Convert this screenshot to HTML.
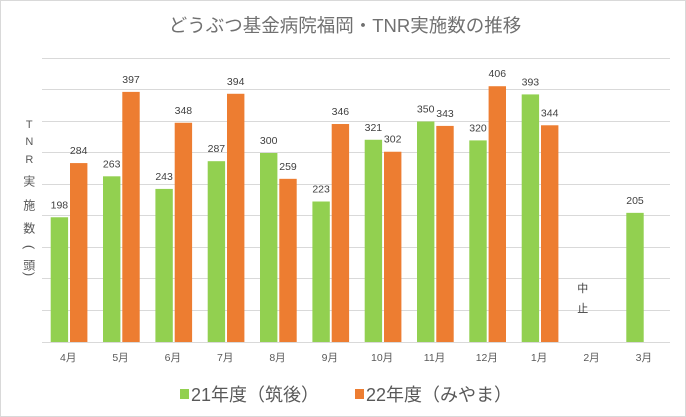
<!DOCTYPE html>
<html>
<head>
<meta charset="utf-8">
<style>
html,body{margin:0;padding:0;background:#fff;}
svg{display:block;}
.t{font-family:"Liberation Sans","Noto Sans CJK JP",sans-serif;}
.cjk{font-family:"Noto Sans CJK JP","Liberation Sans",sans-serif;}
</style>
</head>
<body>
<svg width="686" height="417" viewBox="0 0 686 417" xmlns="http://www.w3.org/2000/svg">
<rect x="0.5" y="0.5" width="685" height="416" fill="#fff" stroke="#d9d9d9" stroke-width="1"/>
<!-- title -->
<text x="345" y="32" text-anchor="middle" class="cjk" font-size="18.5" fill="#707070">どうぶつ基金病院福岡・<tspan class="t">TNR</tspan>実施数の推移</text>
<!-- gridlines -->
<g stroke="#d9d9d9" stroke-width="1">
<line x1="42" x2="670" y1="58.5" y2="58.5"/>
<line x1="42" x2="670" y1="89.5" y2="89.5"/>
<line x1="42" x2="670" y1="121.5" y2="121.5"/>
<line x1="42" x2="670" y1="152.5" y2="152.5"/>
<line x1="42" x2="670" y1="184.5" y2="184.5"/>
<line x1="42" x2="670" y1="215.5" y2="215.5"/>
<line x1="42" x2="670" y1="247.5" y2="247.5"/>
<line x1="42" x2="670" y1="278.5" y2="278.5"/>
<line x1="42" x2="670" y1="310.5" y2="310.5"/>
<line x1="42" x2="670" y1="342.5" y2="342.5"/>
</g>
<!-- green bars -->
<g fill="#92D050">
<rect x="50.7" y="217.26" width="17.4" height="124.74"/>
<rect x="103.0" y="176.31" width="17.4" height="165.69"/>
<rect x="155.4" y="188.91" width="17.4" height="153.09"/>
<rect x="207.7" y="161.19" width="17.4" height="180.81"/>
<rect x="260.0" y="153" width="17.4" height="189"/>
<rect x="312.4" y="201.51" width="17.4" height="140.49"/>
<rect x="364.7" y="139.77" width="17.4" height="202.23"/>
<rect x="417.0" y="121.5" width="17.4" height="220.5"/>
<rect x="469.3" y="140.4" width="17.4" height="201.6"/>
<rect x="521.7" y="94.41" width="17.4" height="247.59"/>
<rect x="626.3" y="212.85" width="17.4" height="129.15"/>
</g>
<!-- orange bars -->
<g fill="#ED7D31">
<rect x="70.0" y="163.08" width="17.4" height="178.92"/>
<rect x="122.3" y="91.89" width="17.4" height="250.11"/>
<rect x="174.7" y="122.76" width="17.4" height="219.24"/>
<rect x="227.0" y="93.78" width="17.4" height="248.22"/>
<rect x="279.3" y="178.83" width="17.4" height="163.17"/>
<rect x="331.7" y="124.02" width="17.4" height="217.98"/>
<rect x="384.0" y="151.74" width="17.4" height="190.26"/>
<rect x="436.3" y="125.91" width="17.4" height="216.09"/>
<rect x="488.6" y="86.22" width="17.4" height="255.78"/>
<rect x="541.0" y="125.28" width="17.4" height="216.72"/>
</g>
<!-- data labels -->
<g class="t" font-size="10.5" fill="#404040" text-anchor="middle">
<text x="59.4" y="208.3">198</text>
<text x="111.7" y="167.3">263</text>
<text x="164.1" y="179.9">243</text>
<text x="216.4" y="152.2">287</text>
<text x="268.7" y="144">300</text>
<text x="321.1" y="192.5">223</text>
<text x="373.4" y="130.8">321</text>
<text x="425.7" y="112.5">350</text>
<text x="478.0" y="131.4">320</text>
<text x="530.4" y="85.4">393</text>
<text x="635.0" y="203.9">205</text>
<text x="78.7" y="154.1">284</text>
<text x="131.0" y="82.9">397</text>
<text x="183.4" y="113.8">348</text>
<text x="235.7" y="84.8">394</text>
<text x="288.0" y="169.8">259</text>
<text x="340.4" y="115">346</text>
<text x="392.7" y="142.7">302</text>
<text x="445.0" y="116.9">343</text>
<text x="497.3" y="77.2">406</text>
<text x="549.7" y="116.3">344</text>
</g>
<!-- 中止 -->
<g class="cjk" font-size="11" fill="#404040" text-anchor="middle">
<text x="582.7" y="292">中</text>
<text x="582.7" y="312">止</text>
</g>
<!-- x labels -->
<g class="t" font-size="10.5" fill="#595959" text-anchor="middle">
<text x="68.2" y="361">4月</text>
<text x="120.5" y="361">5月</text>
<text x="172.8" y="361">6月</text>
<text x="225.2" y="361">7月</text>
<text x="277.5" y="361">8月</text>
<text x="329.8" y="361">9月</text>
<text x="382.1" y="361">10月</text>
<text x="434.5" y="361">11月</text>
<text x="486.8" y="361">12月</text>
<text x="539.1" y="361">1月</text>
<text x="591.5" y="361">2月</text>
<text x="643.8" y="361">3月</text>
</g>
<!-- y axis title -->
<g class="t" font-size="11" fill="#595959" text-anchor="middle">
<text x="29.3" y="128">T</text>
<text x="29.3" y="145">N</text>
<text x="29.3" y="163">R</text>
</g>
<g class="cjk" font-size="12" fill="#595959" text-anchor="middle">
<text x="29.3" y="185.5">実</text>
<text x="29.3" y="209.5">施</text>
<text x="29.3" y="232.5">数</text>
<text x="29.3" y="269.5">頭</text>
</g>
<g class="t" font-size="13" fill="#595959" text-anchor="middle">
<text x="29.3" y="247" dominant-baseline="central" transform="rotate(90 29.3 247)">(</text>
<text x="29.3" y="274" dominant-baseline="central" transform="rotate(90 29.3 274)">)</text>
</g>
<!-- legend -->
<rect x="180" y="389" width="9" height="10" fill="#92D050"/>
<text x="191" y="401" class="t" font-size="18" fill="#595959">21年度（筑後）</text>
<rect x="355" y="389" width="9" height="10" fill="#ED7D31"/>
<text x="366" y="401" class="t" font-size="18" fill="#595959">22年度（みやま）</text>
</svg>
</body>
</html>
